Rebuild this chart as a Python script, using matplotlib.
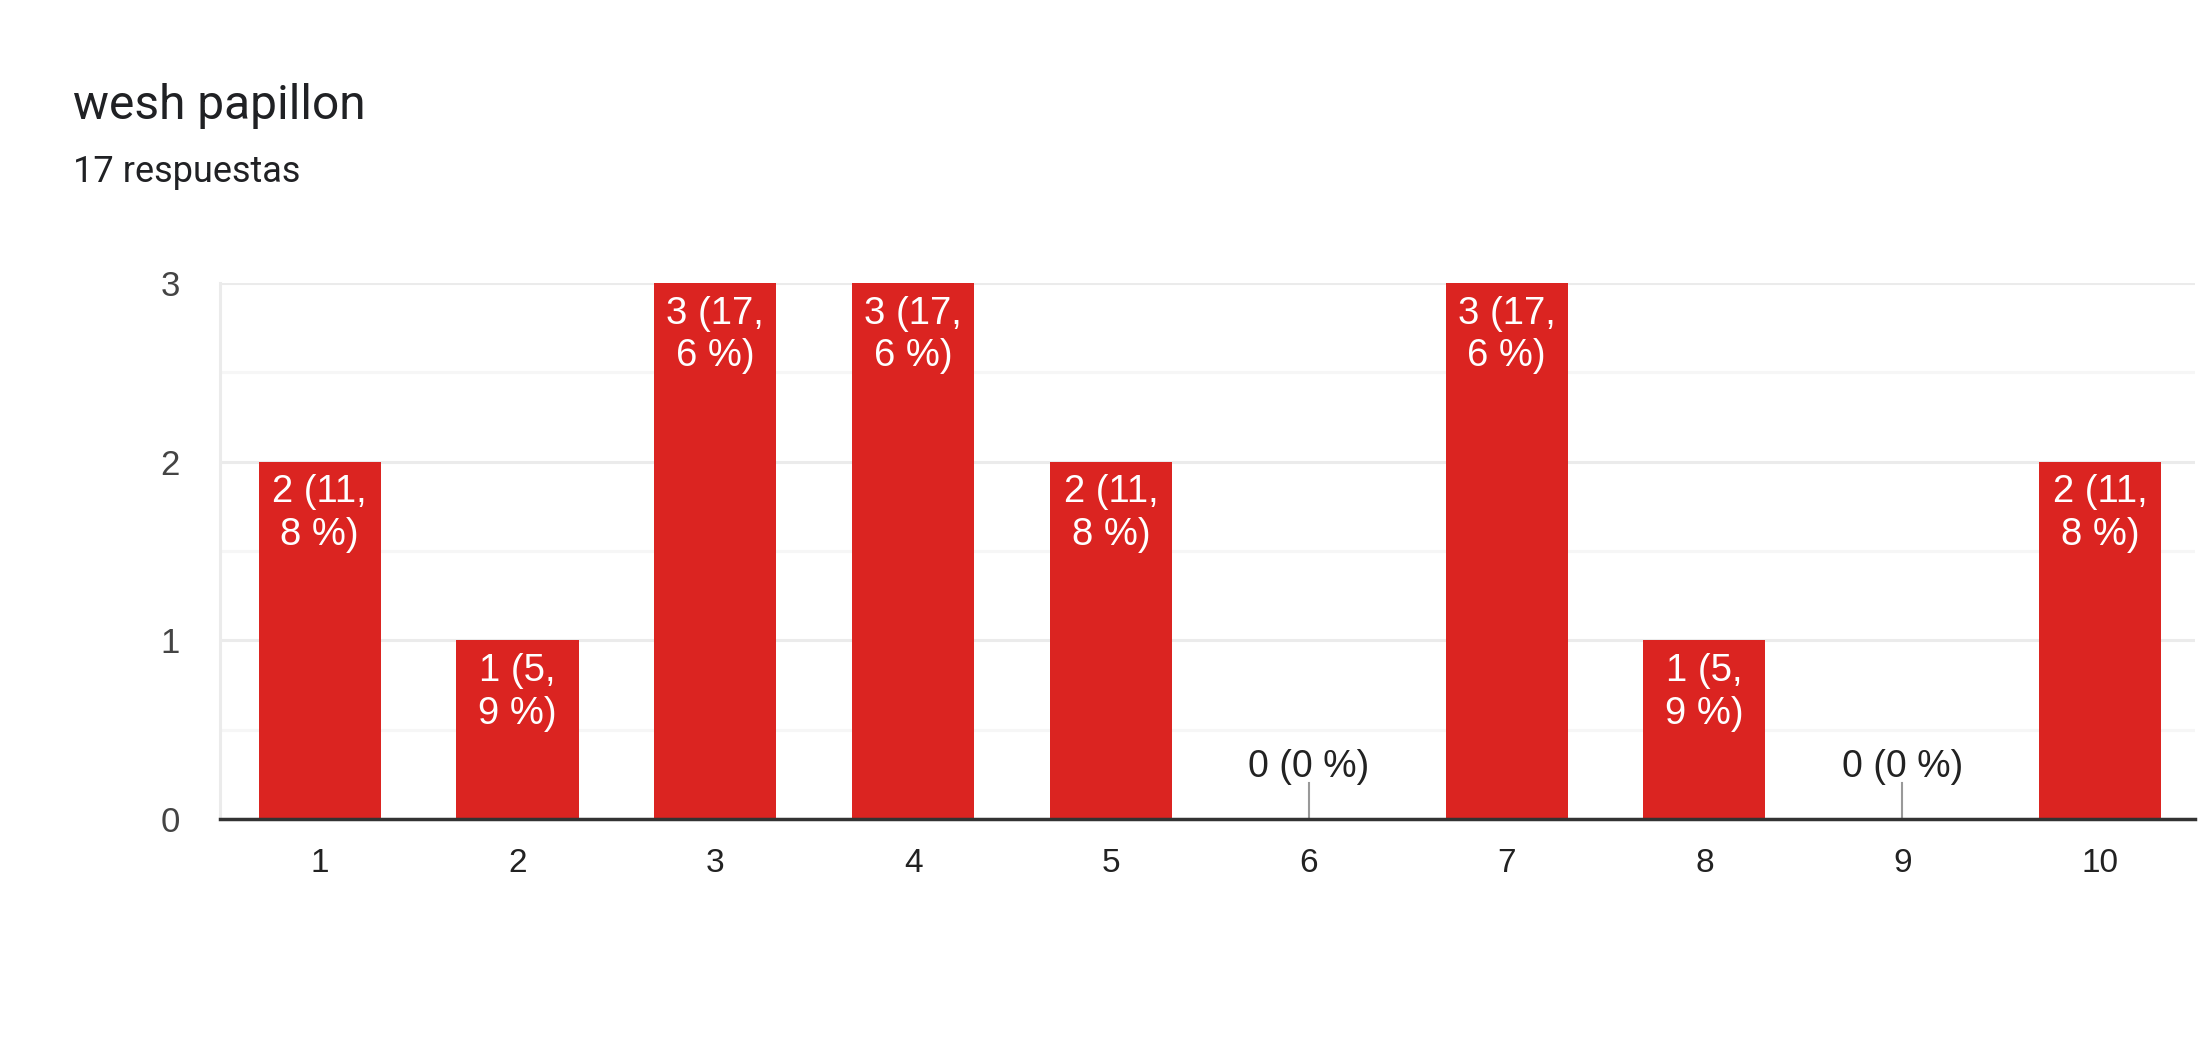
import matplotlib
matplotlib.use("Agg")
import matplotlib.pyplot as plt

categories = ["1", "2", "3", "4", "5", "6", "7", "8", "9", "10"]
counts = [2, 1, 3, 3, 2, 0, 3, 1, 0, 2]
labels = ["2 (11,\n8 %)", "1 (5,\n9 %)", "3 (17,\n6 %)", "3 (17,\n6 %)", "2 (11,\n8 %)",
          "0 (0 %)", "3 (17,\n6 %)", "1 (5,\n9 %)", "0 (0 %)", "2 (11,\n8 %)"]
title = "wesh papillon"
subtitle = "17 respuestas"

W, H = 2199, 1044
fig = plt.figure(figsize=(W / 100, H / 100), dpi=100)
fig.patch.set_facecolor("white")

# plot area in pixels: left 220, right 2195, top 283, bottom 819
ax = fig.add_axes([220 / W, 1 - 819 / H, (2195 - 220) / W, (819 - 283) / H])
x = list(range(1, len(categories) + 1))
ax.bar(x, counts, width=0.617, color="#db2421", zorder=3)

ax.set_xlim(0.496, 10.48)
ax.set_ylim(0, 3)
ax.set_yticks([0, 1, 2, 3])
ax.set_yticks([0.5, 1.5, 2.5], minor=True)
ax.set_xticks(x)
ax.set_xticklabels(categories)
ax.grid(axis="y", which="major", color="#ebebeb", lw=2.2, zorder=0)
ax.grid(axis="y", which="minor", color="#f6f6f6", lw=2.2, zorder=0)
ax.tick_params(axis="both", which="both", length=0)
ax.tick_params(axis="y", pad=29, labelsize=25, labelcolor="#444444")
ax.tick_params(axis="x", pad=21, labelsize=24, labelcolor="#222222")
for lab in ax.get_xticklabels() + ax.get_yticklabels():
    lab.set_family("Liberation Sans")

for s in ["top", "right"]:
    ax.spines[s].set_visible(False)
ax.spines["left"].set_color("#ebebeb")
ax.spines["left"].set_linewidth(2.2)
ax.spines["bottom"].set_color("#333333")
ax.spines["bottom"].set_linewidth(2.5)
ax.spines["bottom"].set_zorder(5)

for xi, c, lab in zip(x, counts, labels):
    if c > 0:
        ax.annotate(lab, (xi, c), xytext=(0, -9), textcoords="offset points",
                    ha="center", va="top", color="white", fontsize=27.5,
                    family="Liberation Sans", linespacing=1.25, zorder=4)
    else:
        ax.plot([xi, xi], [0, 0.2], color="#999999", lw=1.5, zorder=4)
        ax.annotate(lab, (xi, 0.2), xytext=(0, -1), textcoords="offset points",
                    ha="center", va="bottom", color="#222222", fontsize=27,
                    family="Liberation Sans", zorder=4)

fig.text(73 / W, 1 - 119 / H, title, fontsize=34.5, family="Roboto",
         color="#202124", va="baseline")
fig.text(73 / W, 1 - 182 / H, subtitle, fontsize=26, family="Roboto",
         color="#202124", va="baseline")

fig.savefig("out.png", dpi=100, facecolor="white")
